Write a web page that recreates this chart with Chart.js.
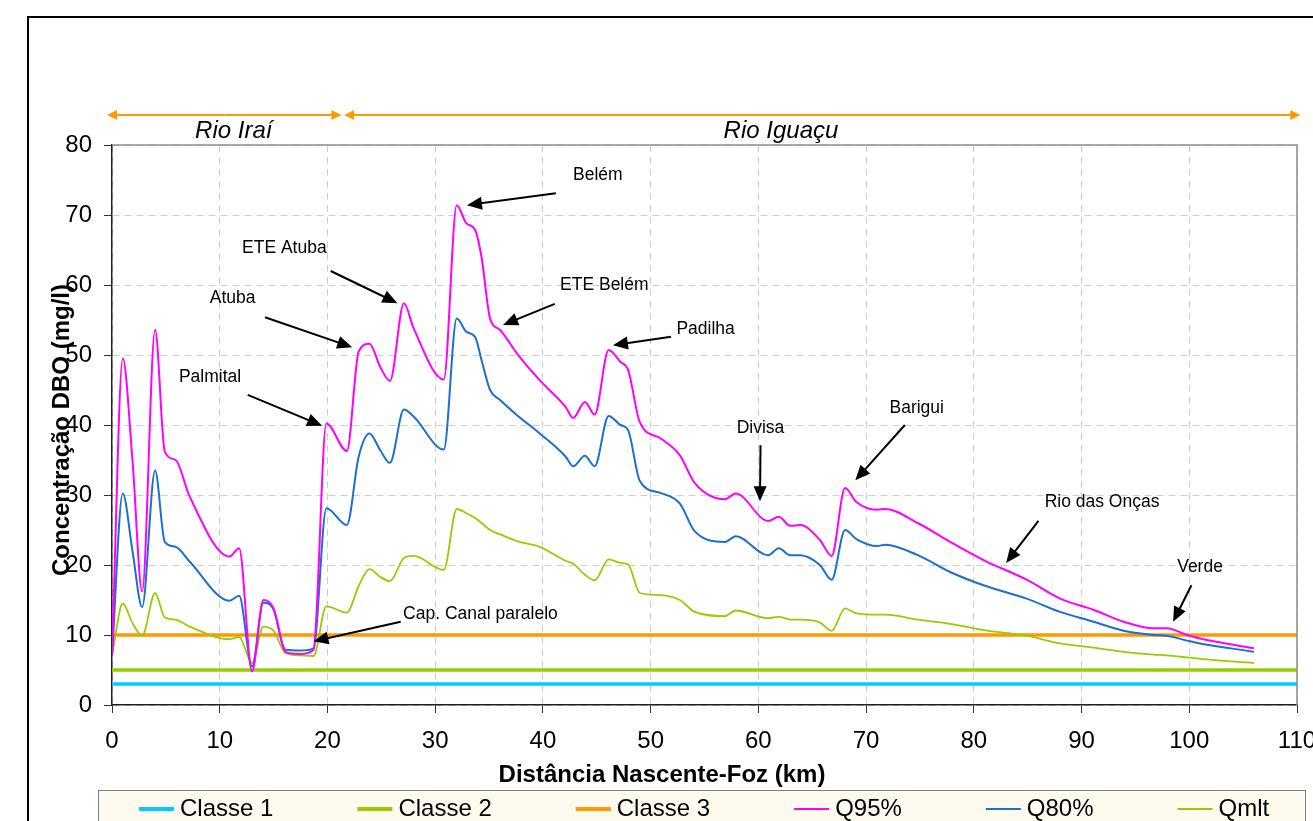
<!DOCTYPE html>
<html lang="pt-BR">
<head>
<meta charset="utf-8">
<title>Concentração DBO - Rio Iraí / Rio Iguaçu</title>
<script src="https://cdn.jsdelivr.net/npm/chart.js@4.4.1/dist/chart.umd.min.js"></script>
<style>
  html, body { margin: 0; padding: 0; background: #fff; }
  canvas { display: block; }
</style>
</head>
<body>
<canvas id="graficoDBO" width="1313" height="821"></canvas>
<script>
// distância ao longo do rio (km) e concentrações de DBO (mg/l)
const distancia = [0, 1.0, 1.9, 2.8, 4.0, 4.9, 5.9, 7.2, 10.9, 11.8, 13.0, 14.05, 15.0, 16.1, 17.5, 18.7,
  19.9, 21.8, 22.9, 23.9, 24.9, 25.8, 27.1, 28.0, 30.8, 32.0, 32.9, 33.7, 34.3, 35.1, 36.0, 37.6, 39.7,
  42.1, 42.8, 43.9, 44.8, 46.1, 47.2, 47.9, 49.0, 50.9, 52.7, 54.1, 56.9, 57.9, 60.9, 61.9, 62.95, 63.9,
  65.7, 66.8, 68.05, 69.1, 71.0, 71.8, 74.8, 77.8, 80.9, 84.9, 88.0, 91.1, 93.9, 96.7, 97.9, 99.8, 101.0, 106.0];

const q95 = [7.1, 49.5, 35.0, 16.2, 53.6, 36.2, 35.0, 29.8, 21.2, 22.4, 4.8, 15.0, 13.8, 7.6, 7.3, 7.9,
  40.2, 36.3, 50.5, 51.6, 48.3, 46.3, 57.4, 53.8, 46.5, 71.4, 68.8, 67.9, 64.0, 55.2, 53.6, 50.2, 46.4,
  42.6, 41.0, 43.3, 41.5, 50.7, 49.0, 47.9, 40.4, 38.1, 35.7, 31.7, 29.4, 30.2, 26.3, 26.9, 25.6, 25.7,
  23.6, 21.3, 31.0, 29.0, 27.9, 28.0, 26.0, 23.3, 20.7, 17.9, 15.2, 13.6, 11.9, 10.95, 10.95, 10.0, 9.5, 8.1];

const q80 = [7.0, 30.2, 22.0, 14.0, 33.5, 23.3, 22.6, 20.5, 14.9, 15.6, 5.5, 14.6, 13.6, 7.9, 7.8, 8.1,
  28.1, 25.7, 35.5, 38.8, 36.4, 34.6, 42.2, 41.2, 36.5, 55.2, 53.3, 52.6, 49.3, 45.0, 43.6, 41.4, 38.8,
  35.5, 34.1, 35.6, 34.1, 41.3, 40.0, 39.3, 32.0, 30.3, 28.8, 24.8, 23.3, 24.1, 21.4, 22.4, 21.4, 21.4,
  20.0, 17.9, 25.0, 23.7, 22.7, 22.9, 21.4, 19.0, 17.1, 15.2, 13.3, 11.9, 10.6, 10.0, 9.9, 9.2, 8.8, 7.6];

const qmlt = [7.0, 14.5, 11.7, 9.9, 16.0, 12.5, 12.2, 11.2, 9.4, 9.7, 6.0, 11.2, 10.6, 7.4, 7.1, 7.0,
  14.1, 13.2, 17.0, 19.4, 18.3, 17.7, 21.0, 21.3, 19.3, 28.0, 27.4, 26.7, 26.0, 25.0, 24.4, 23.4, 22.6,
  20.6, 20.2, 18.6, 17.8, 20.8, 20.3, 20.1, 16.0, 15.7, 15.0, 13.3, 12.7, 13.5, 12.4, 12.6, 12.2, 12.2,
  11.8, 10.6, 13.8, 13.1, 12.9, 12.9, 12.2, 11.6, 10.7, 9.9, 8.8, 8.2, 7.6, 7.2, 7.1, 6.8, 6.6, 6.0];

// limites das classes de enquadramento (mg/l)
const classes = ['Classe 1', 'Classe 2', 'Classe 3'];
const limitesClasse = [3, 5, 10];

// trechos do rio no topo do gráfico (km)
const trechos = [
  { nome: 'Rio Iraí', inicio: -0.45, fim: 21.3, rotulo: 11.3 },
  { nome: 'Rio Iguaçu', inicio: 21.55, fim: 110.3, rotulo: 62.1 }
];

// pontos notáveis: texto e seta (km, mg/l)
const anotacoes = [
  { texto: 'Belém', x: 45.1, y: 75.7, de: [41.2, 73.1], para: [32.95, 71.4] },
  { texto: 'ETE Atuba', x: 16.0, y: 65.3, de: [20.3, 62.0], para: [26.5, 57.4] },
  { texto: 'Atuba', x: 11.2, y: 58.1, de: [14.2, 55.4], para: [22.3, 51.1] },
  { texto: 'ETE Belém', x: 45.7, y: 60.0, de: [41.1, 57.3], para: [36.3, 54.3] },
  { texto: 'Padilha', x: 55.1, y: 53.7, de: [51.9, 52.6], para: [46.5, 51.4] },
  { texto: 'Palmital', x: 9.1, y: 46.9, de: [12.6, 44.3], para: [19.5, 39.9] },
  { texto: 'Divisa', x: 60.2, y: 39.6, de: [60.2, 37.1], para: [60.15, 29.1] },
  { texto: 'Barigui', x: 74.7, y: 42.4, de: [73.6, 40.0], para: [69.0, 32.1] },
  { texto: 'Rio das Onças', x: 91.9, y: 29.0, de: [86.0, 26.3], para: [83.0, 20.3] },
  { texto: 'Verde', x: 101.0, y: 19.7, de: [100.2, 17.1], para: [98.5, 11.9] },
  { texto: 'Cap. Canal paralelo', x: 34.2, y: 13.0, de: [26.8, 11.9], para: [18.7, 9.1] }
];

const fonte = "'Liberation Sans', Arial, sans-serif";
Chart.defaults.font.family = fonte;
Chart.defaults.color = '#000';

function serie(valores) {
  return distancia.map((km, i) => ({ x: km, y: valores[i] }));
}

function linhaClasse(valor) {
  return [{ x: 0, y: valor }, { x: 110, y: valor }];
}

function seta(ctx, x1, y1, x2, y2, tam, larg) {
  const ang = Math.atan2(y2 - y1, x2 - x1);
  const c = Math.cos(ang), s = Math.sin(ang);
  ctx.beginPath();
  ctx.moveTo(x1, y1);
  ctx.lineTo(x2 - c * tam * 0.8, y2 - s * tam * 0.8);
  ctx.stroke();
  ctx.beginPath();
  ctx.moveTo(x2, y2);
  ctx.lineTo(x2 - tam * c + larg * s, y2 - tam * s - larg * c);
  ctx.lineTo(x2 - tam * c - larg * s, y2 - tam * s + larg * c);
  ctx.closePath();
  ctx.fill();
}

const coresClasse = ['#00ccff', '#99cc00', '#ff9900'];

const datasets = classes.map((nome, i) => ({
  label: nome,
  data: linhaClasse(limitesClasse[i]),
  borderColor: coresClasse[i],
  borderWidth: 3.5,
  pointRadius: 0,
  order: 1
}));

datasets.push(
  { label: 'Q95%', data: serie(q95), borderColor: '#ff00ff', borderWidth: 2, legendaLargura: 2 },
  { label: 'Q80%', data: serie(q80), borderColor: '#1a6fcf', borderWidth: 2, legendaLargura: 2 },
  { label: 'Qmlt', data: serie(qmlt), borderColor: '#99cc00', borderWidth: 1.8, legendaLargura: 2 }
);
datasets.slice(3).forEach(d => {
  d.pointRadius = 0;
  d.cubicInterpolationMode = 'monotone';
  d.order = 0;
});

const decoracao = {
  id: 'decoracao',
  beforeDraw(chart) {
    const { ctx, width, height } = chart;
    ctx.save();
    ctx.fillStyle = '#fff';
    ctx.fillRect(0, 0, width, height);
    ctx.strokeStyle = '#000';
    ctx.lineWidth = 2;
    ctx.beginPath();
    ctx.moveTo(28, height);
    ctx.lineTo(28, 17);
    ctx.lineTo(width, 17);
    ctx.stroke();
    ctx.restore();
  },
  afterDatasetsDraw(chart) {
    const { ctx, scales: { x, y } } = chart;
    ctx.save();
    ctx.fillStyle = '#000';
    ctx.strokeStyle = '#000';
    ctx.lineWidth = 2;
    ctx.font = `17.5px ${fonte}`;
    ctx.textAlign = 'center';
    ctx.textBaseline = 'middle';
    anotacoes.forEach(a => {
      ctx.fillText(a.texto, x.getPixelForValue(a.x), y.getPixelForValue(a.y));
      seta(ctx, x.getPixelForValue(a.de[0]), y.getPixelForValue(a.de[1]),
        x.getPixelForValue(a.para[0]), y.getPixelForValue(a.para[1]), 15, 6.5);
    });
    ctx.restore();
  },
  afterDraw(chart) {
    const { ctx, chartArea: area, scales: { x } } = chart;
    ctx.save();

    // moldura da área de plotagem (topo e direita)
    ctx.strokeStyle = '#8c8c8c';
    ctx.lineWidth = 1.5;
    ctx.beginPath();
    ctx.moveTo(area.left, area.top);
    ctx.lineTo(area.right, area.top);
    ctx.lineTo(area.right, area.bottom);
    ctx.stroke();

    // trechos do rio
    const ySeta = area.top - 30;
    ctx.strokeStyle = '#ff9900';
    ctx.fillStyle = '#ff9900';
    ctx.lineWidth = 2;
    trechos.forEach(t => {
      const x1 = x.getPixelForValue(t.inicio), x2 = x.getPixelForValue(t.fim);
      const meio = (x1 + x2) / 2;
      seta(ctx, meio, ySeta, x1, ySeta, 10, 5);
      seta(ctx, meio, ySeta, x2, ySeta, 10, 5);
    });
    ctx.fillStyle = '#000';
    ctx.font = `italic 24px ${fonte}`;
    ctx.textAlign = 'center';
    ctx.textBaseline = 'middle';
    trechos.forEach(t => ctx.fillText(t.nome, x.getPixelForValue(t.rotulo), area.top - 14));

    // títulos dos eixos
    ctx.font = `bold 24px ${fonte}`;
    ctx.fillText('Distância Nascente-Foz (km)', 662, 775);
    ctx.save();
    ctx.translate(62, 430);
    ctx.rotate(-Math.PI / 2);
    ctx.fillText('Concentração DBO (mg/l)', 0, 0);
    ctx.restore();

    // legenda
    ctx.fillStyle = '#fffaef';
    ctx.strokeStyle = '#7f7f7f';
    ctx.lineWidth = 1;
    ctx.fillRect(98, 790, 1207, 40);
    ctx.strokeRect(98.5, 790.5, 1207, 40);
    ctx.font = `24px ${fonte}`;
    ctx.textAlign = 'left';
    let xl = 139;
    const yl = 809;
    chart.data.datasets.forEach(d => {
      ctx.strokeStyle = d.borderColor;
      ctx.lineWidth = d.legendaLargura || 4;
      ctx.beginPath();
      ctx.moveTo(xl, yl);
      ctx.lineTo(xl + 35, yl);
      ctx.stroke();
      ctx.fillStyle = '#000';
      ctx.fillText(d.label, xl + 41, yl);
      xl += 41 + ctx.measureText(d.label).width + 84;
    });
    ctx.restore();
  }
};

new Chart(document.getElementById('graficoDBO'), {
  type: 'line',
  data: { datasets },
  options: {
    responsive: false,
    animation: false,
    layout: { padding: { left: 32, right: 16, top: 145, bottom: 46 } },
    plugins: { legend: { display: false }, tooltip: { enabled: false } },
    scales: {
      x: {
        type: 'linear',
        min: 0,
        max: 110,
        ticks: { stepSize: 10, font: { size: 24 }, padding: 14, maxRotation: 0, autoSkip: false },
        grid: { color: '#cdcdcd', tickColor: '#333', tickLength: 8, tickBorderDash: [] },
        border: { color: '#222', width: 1.5, dash: [7, 5] },
        afterFit(scale) {
          scale.height = 70;
          scale.paddingLeft = 0;
          scale.paddingRight = 0;
        }
      },
      y: {
        min: 0,
        max: 80,
        ticks: { stepSize: 10, font: { size: 24 }, padding: 12 },
        grid: { color: '#cdcdcd', tickColor: '#333', tickLength: 8, tickBorderDash: [] },
        border: { color: '#222', width: 1.5, dash: [7, 5] },
        afterFit(scale) {
          scale.width = 80;
          scale.paddingTop = 0;
          scale.paddingBottom = 0;
        }
      }
    }
  },
  plugins: [decoracao]
});
</script>
</body>
</html>
